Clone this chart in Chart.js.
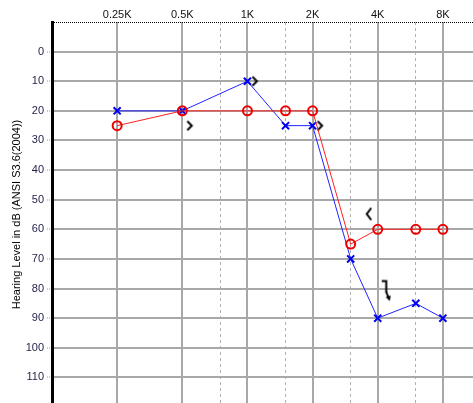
<!DOCTYPE html>
<html>
<head>
<meta charset="utf-8">
<script src="https://cdn.jsdelivr.net/npm/chart.js@4/dist/chart.umd.min.js"></script>
<style>
  html, body { margin: 0; padding: 0; background: #fff; overflow: hidden; }
  #wrap { width: 473px; height: 403px; overflow: hidden; }
  canvas { display: block; }
</style>
</head>
<body>
<div id="wrap"><canvas id="audiogram" width="508" height="407"></canvas></div>
<script>
// Test frequencies (Hz)
const frequencies = [250, 500, 1000, 1500, 2000, 3000, 4000, 6000, 8000];
// Air conduction thresholds (dB HL)
const rightAir = [25, 20, 20, 20, 20, 65, 60, 60, 60];
const leftAir  = [20, 20, 10, 25, 25, 70, 90, 85, 90];
// Bone conduction thresholds
const leftBoneFreqs = [500, 1000, 2000];
const leftBone      = [25, 10, 25];
const rightBoneFreqs = [4000];
const rightBone      = [55];
const leftMaskedNoRespFreqs = [4000];
const leftMaskedNoResp      = [80];
// Axis ticks
const octaveTicks = [250, 500, 1000, 2000, 4000, 8000];
const octaveLabels = ['0.25K', '0.5K', '1K', '2K', '4K', '8K'];
const midOctaveTicks = [750, 1500, 3000, 6000];
const levelTicks = [0, 10, 20, 30, 40, 50, 60, 70, 80, 90, 100, 110];

const pts = (xs, ys) => xs.map((x, i) => ({ x: x, y: ys[i] }));

// Small drawn glyphs for bone-conduction symbols
function glyph(draw) {
  const c = document.createElement('canvas');
  c.width = 32; c.height = 32;
  const g = c.getContext('2d');
  g.translate(16, 16);
  g.strokeStyle = '#000';
  g.fillStyle = '#000';
  g.lineWidth = 2;
  g.lineJoin = 'miter';
  draw(g);
  return c;
}
const leftBoneGlyph = glyph(g => {        // ">"
  g.beginPath(); g.moveTo(5, -4.5); g.lineTo(9.5, 0); g.lineTo(5, 4.5); g.stroke();
});
const rightBoneGlyph = glyph(g => {       // "<"
  g.beginPath(); g.moveTo(-6.5, -6.5); g.lineTo(-11, -0.5); g.lineTo(-6.5, 5.5); g.stroke();
});
const leftMaskedNRGlyph = glyph(g => {    // "]" with no-response arrow
  g.beginPath(); g.moveTo(4, -7.5); g.lineTo(8.5, -7.5); g.lineTo(8.5, 4); g.stroke();
  g.beginPath(); g.moveTo(8.5, 3.5); g.lineTo(10.5, 8.5); g.stroke();
  g.beginPath(); g.moveTo(8, 8.5); g.lineTo(13, 7); g.lineTo(12, 12.5); g.closePath(); g.fill();
});

// Dotted frame line along the top of the plot
const topFrame = {
  id: 'topFrame',
  afterDraw(chart) {
    const { ctx, chartArea } = chart;
    ctx.save();
    ctx.strokeStyle = '#000';
    ctx.lineWidth = 1;
    ctx.setLineDash([1, 1]);
    ctx.beginPath();
    ctx.moveTo(chartArea.left, Math.round(chartArea.top) + 0.5);
    ctx.lineTo(chartArea.right, Math.round(chartArea.top) + 0.5);
    ctx.stroke();
    ctx.restore();
  }
};

const FONT = { family: "'Liberation Sans', Arial, sans-serif", size: 11 };

new Chart(document.getElementById('audiogram'), {
  type: 'line',
  data: {
    datasets: [
      {
        label: 'Right AC',
        data: pts(frequencies, rightAir),
        borderColor: '#ff2020',
        borderWidth: 1,
        pointStyle: 'circle',
        pointRadius: 4.5,
        pointBorderWidth: 2,
        pointBorderColor: '#ee0000',
        pointBackgroundColor: 'rgba(0,0,0,0)'
      },
      {
        label: 'Left AC',
        data: pts(frequencies, leftAir),
        borderColor: '#2222ff',
        borderWidth: 1,
        pointStyle: 'crossRot',
        pointRadius: 5,
        pointBorderWidth: 2,
        pointBorderColor: '#0000ee'
      },
      {
        label: 'Left BC',
        data: pts(leftBoneFreqs, leftBone),
        showLine: false,
        pointStyle: leftBoneGlyph
      },
      {
        label: 'Right BC',
        data: pts(rightBoneFreqs, rightBone),
        showLine: false,
        pointStyle: rightBoneGlyph
      },
      {
        label: 'Left BC masked, no response',
        data: pts(leftMaskedNoRespFreqs, leftMaskedNoResp),
        showLine: false,
        pointStyle: leftMaskedNRGlyph
      }
    ]
  },
  options: {
    responsive: false,
    animation: false,
    devicePixelRatio: 1,
    layout: { padding: 0, autoPadding: false },
    plugins: { legend: { display: false }, tooltip: { enabled: false } },
    scales: {
      x: {
        type: 'logarithmic',
        position: 'top',
        min: 125,
        max: 16000,
        bounds: 'data',
        afterBuildTicks(scale) {
          scale.ticks = octaveTicks.concat(midOctaveTicks)
            .sort((a, b) => a - b)
            .map(v => ({ value: v }));
        },
        afterFit(scale) {
          scale.height = 22;
          scale.paddingLeft = 0; scale.paddingRight = 0;
          scale.paddingTop = 0; scale.paddingBottom = 0;
        },
        ticks: {
          autoSkip: false,
          maxRotation: 0,
          padding: 0,
          color: '#111',
          font: FONT,
          callback(value) {
            const i = octaveTicks.indexOf(value);
            return i >= 0 ? octaveLabels[i] : '';
          }
        },
        grid: {
          drawTicks: false,
          color: ctx => midOctaveTicks.includes(ctx.tick && ctx.tick.value) ? '#b0b0b0' : '#a8a8a8',
          lineWidth: ctx => midOctaveTicks.includes(ctx.tick && ctx.tick.value) ? 1 : 2
        },
        border: {
          display: false,
          dash: ctx => midOctaveTicks.includes(ctx.tick && ctx.tick.value) ? [3, 3] : []
        }
      },
      y: {
        type: 'linear',
        reverse: true,
        min: -10,
        max: 120,
        afterBuildTicks(scale) {
          scale.ticks = [-10].concat(levelTicks, [120]).map(v => ({ value: v }));
        },
        afterFit(scale) {
          scale.width = 52;
          scale.paddingLeft = 0; scale.paddingRight = 0;
          scale.paddingTop = 0; scale.paddingBottom = 0;
        },
        ticks: {
          autoSkip: false,
          padding: 3,
          color: '#1e1e46',
          font: FONT,
          callback(value) { return levelTicks.includes(value) ? String(value) : ''; }
        },
        grid: {
          color: ctx => (ctx.tick && levelTicks.includes(ctx.tick.value)) ? '#a8a8a8' : 'rgba(0,0,0,0)',
          lineWidth: 2,
          drawTicks: true,
          tickLength: 5,
          tickWidth: 1,
          tickColor: ctx => (ctx.tick && levelTicks.includes(ctx.tick.value)) ? '#9a9a9a' : 'rgba(0,0,0,0)',
          tickBorderDash: [1, 1]
        },
        border: { display: true, color: '#000', width: 3 },
        title: {
          display: true,
          text: 'Hearing Level in dB (ANSI S3.6(2004))',
          color: '#000',
          font: FONT,
          padding: { top: 10, bottom: 0 }
        }
      }
    }
  },
  plugins: [topFrame]
});
</script>
</body>
</html>
